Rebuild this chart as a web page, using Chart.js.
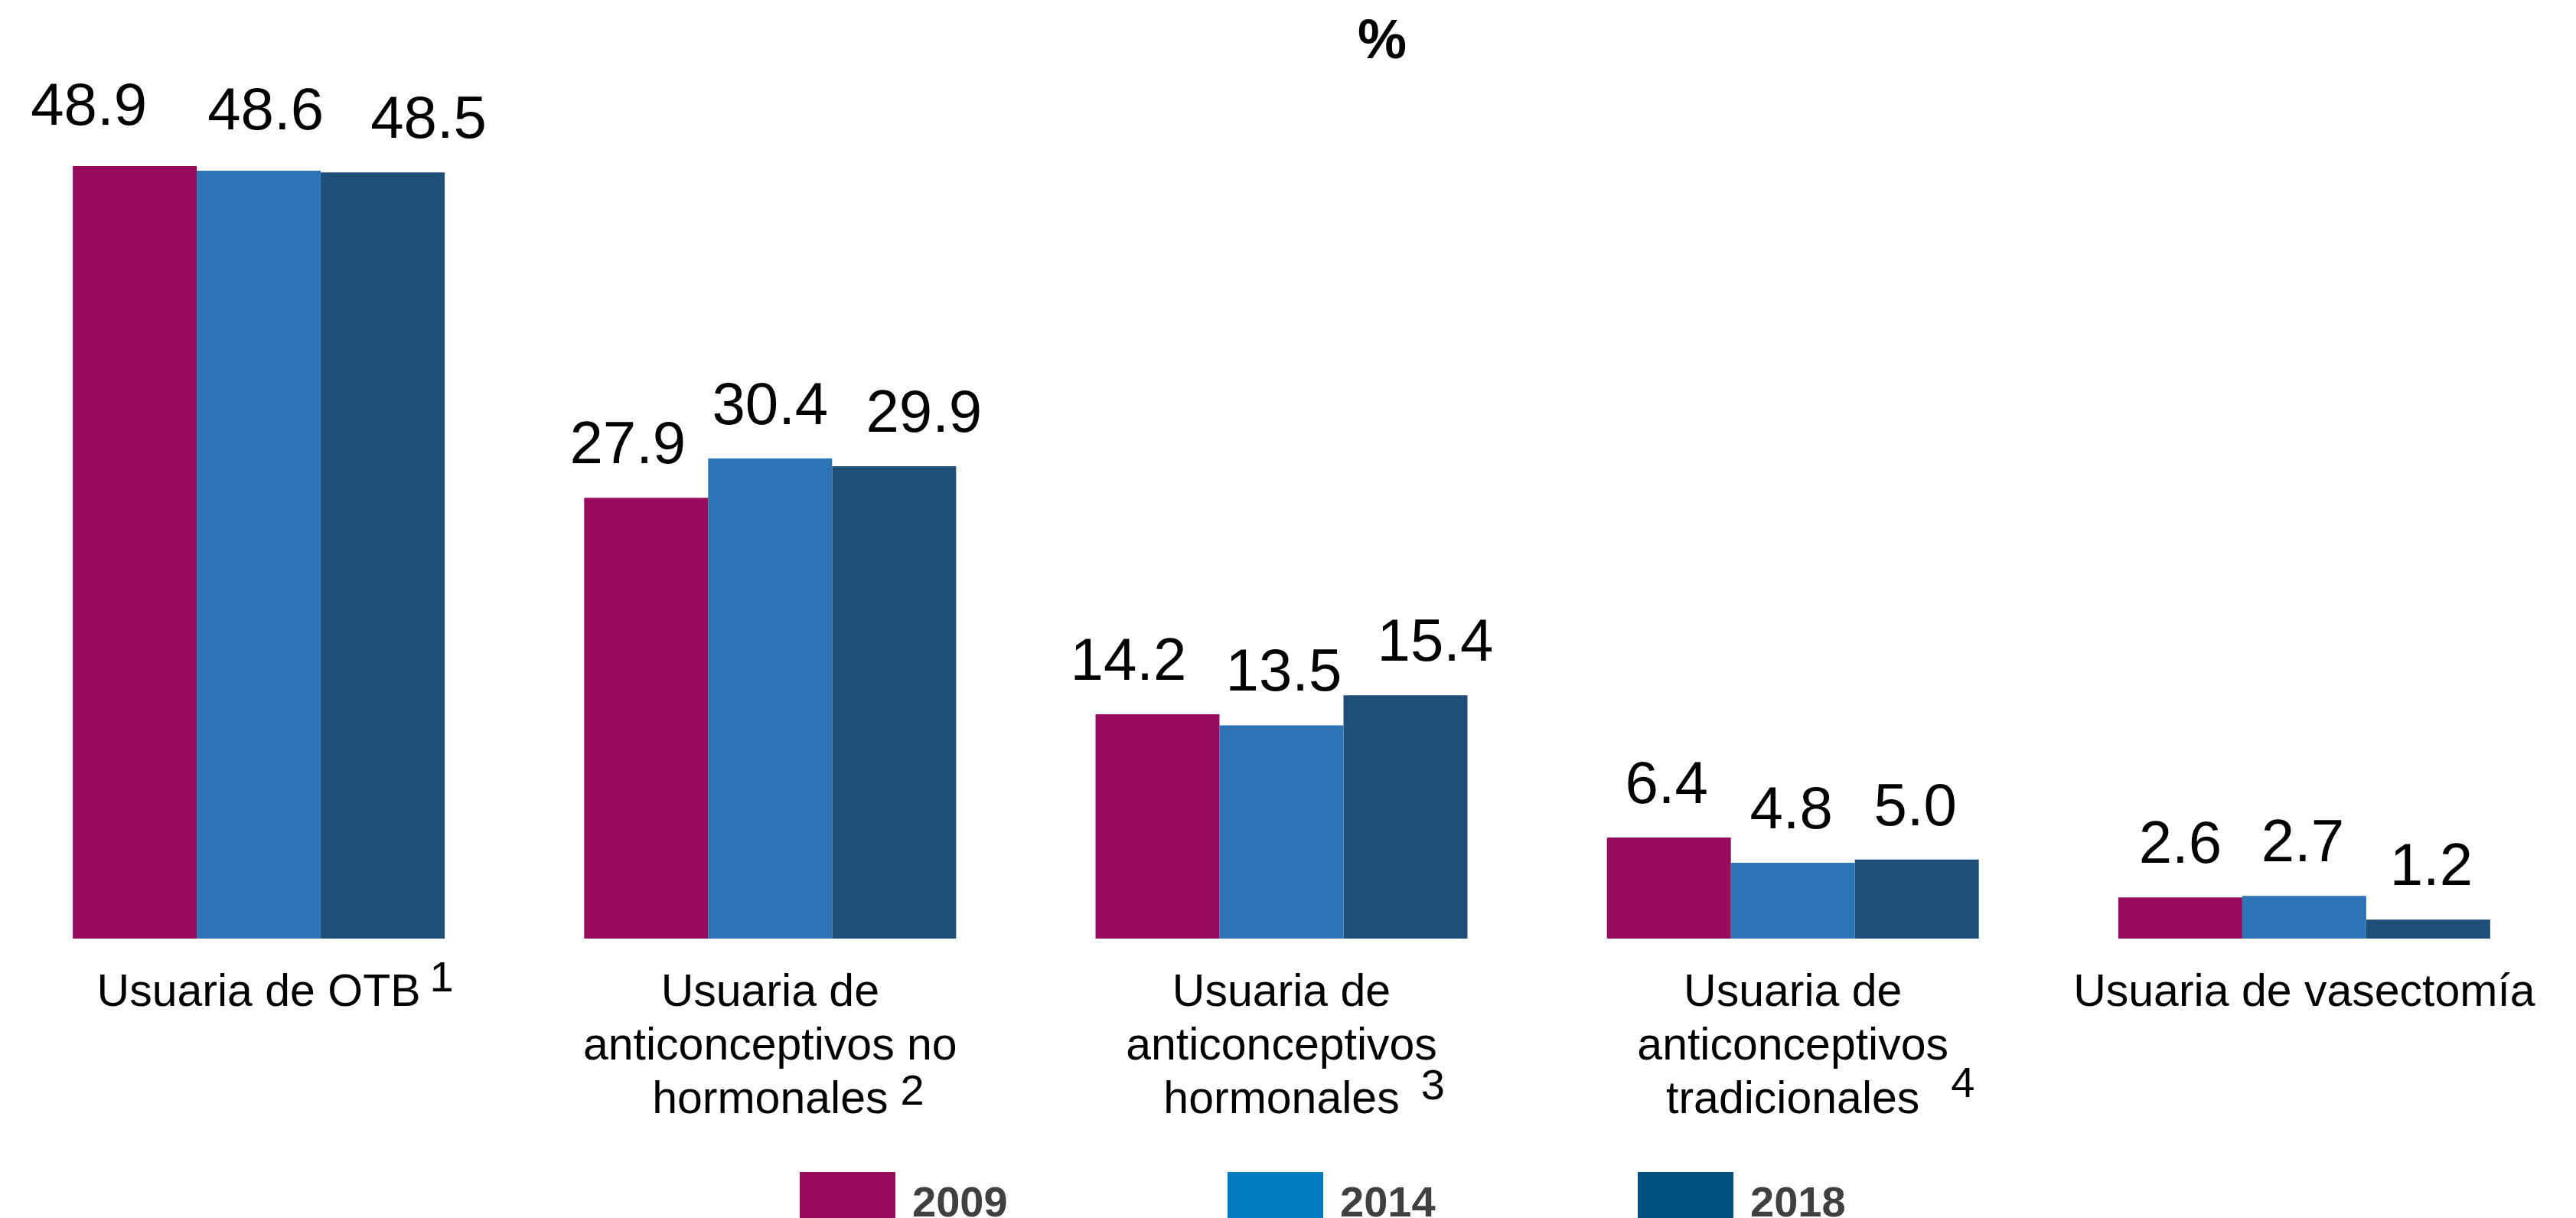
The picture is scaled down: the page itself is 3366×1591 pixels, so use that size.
<!DOCTYPE html>
<html>
<head>
<meta charset="utf-8">
<script src="https://cdn.jsdelivr.net/npm/chart.js@4.4.1/dist/chart.umd.min.js"></script>
<style>
  html, body { margin: 0; padding: 0; background: #ffffff; overflow: hidden; }
  #wrap { position: relative; width: 3366px; height: 1591px; }
</style>
</head>
<body>
<div id="wrap"><canvas id="c" width="3366" height="1591"></canvas></div>
<script>
// ---- data ----
const categories = [
  ["Usuaria de OTB"],
  ["Usuaria de", "anticonceptivos no", "hormonales"],
  ["Usuaria de", "anticonceptivos", "hormonales"],
  ["Usuaria de", "anticonceptivos", "tradicionales"],
  ["Usuaria de vasectom\u00EDa"]
];
const footnoteMarks = ["1", "2", "3", "4", ""];
const seriesNames = ["2009", "2014", "2018"];
const values2009 = [48.9, 27.9, 14.2, 6.4, 2.6];
const values2014 = [48.6, 30.4, 13.5, 4.8, 2.7];
const values2018 = [48.5, 29.9, 15.4, 5.0, 1.2];
const titleText = "%";

// ---- styles ----
const barColors = ["#970A5E", "#2E74B5", "#1F4E79"];
const legendColors = ["#980A5E", "#007AC0", "#005182"];
// small label nudges (px) per series per category, [dx, dy]
const labelNudge = [
  [[-60, -9], [-24, 0], [-38, 0], [-3, 0], [0, 0]],
  [[9, -9], [0, 0], [3, 0], [-2, 0], [-2, 0]],
  [[60, 0], [39, 0], [39, 0], [-2, 0], [4, 0]]
];
// footnote mark placement: gap after text, rise above baseline
const markGap = [12, 16, 28, 41, 0];
const markRise = [23, 15, 22, 25, 0];

const FONT = '"Liberation Sans", Arial, Helvetica, sans-serif';

const labelPlugin = {
  id: 'valueLabels',
  afterDatasetsDraw(chart) {
    const ctx = chart.ctx;
    ctx.save();
    ctx.font = '78px ' + FONT;
    ctx.fillStyle = '#000000';
    ctx.textAlign = 'center';
    ctx.textBaseline = 'alphabetic';
    chart.data.datasets.forEach((ds, di) => {
      const meta = chart.getDatasetMeta(di);
      meta.data.forEach((bar, i) => {
        const n = labelNudge[di][i];
        ctx.fillText(ds.data[i].toFixed(1), bar.x + n[0], bar.y - 45 + n[1]);
      });
    });
    ctx.restore();
  },
  afterDraw(chart) {
    const ctx = chart.ctx;
    ctx.save();
    // footnote marks next to category labels
    const xs = chart.scales.x;
    ctx.fillStyle = '#000000';
    ctx.textBaseline = 'alphabetic';
    categories.forEach((lines, i) => {
      if (!footnoteMarks[i]) return;
      ctx.font = '59px ' + FONT;
      const last = lines[lines.length - 1];
      const w = ctx.measureText(last).width;
      const x = xs.getPixelForTick(i) + w / 2 + markGap[i];
      const y = chart.chartArea.bottom + 92 + 70 * (lines.length - 1) - markRise[i];
      ctx.font = '56px ' + FONT;
      ctx.textAlign = 'left';
      ctx.fillText(footnoteMarks[i], x, y);
    });
    // title
    ctx.font = 'bold 72px ' + FONT;
    ctx.textAlign = 'center';
    ctx.fillText(titleText, 1806, 76);
    // legend
    const boxX = [1045, 1604, 2140];
    ctx.font = 'bold 56px ' + FONT;
    ctx.textAlign = 'left';
    seriesNames.forEach((name, i) => {
      ctx.fillStyle = legendColors[i];
      ctx.fillRect(boxX[i], 1531, 125, 70);
      ctx.fillStyle = '#404040';
      ctx.fillText(name, boxX[i] + 147, 1589);
    });
    ctx.restore();
  }
};

const seriesValues = [values2009, values2014, values2018];

new Chart(document.getElementById('c'), {
  type: 'bar',
  data: {
    labels: categories,
    datasets: seriesNames.map((name, i) => ({
      label: name,
      data: seriesValues[i],
      backgroundColor: barColors[i],
      borderWidth: 0,
      categoryPercentage: 0.7273,
      barPercentage: 1.0
    }))
  },
  options: {
    responsive: false,
    devicePixelRatio: 1,
    animation: false,
    layout: { padding: { left: 4, right: 21, top: 91, bottom: 0 } },
    plugins: {
      legend: { display: false },
      title: { display: false },
      tooltip: { enabled: false }
    },
    scales: {
      x: {
        grid: { display: false, drawTicks: false },
        border: { display: false },
        ticks: {
          color: '#000000',
          font: { family: FONT, size: 59, lineHeight: 70 / 59 },
          padding: 37,
          maxRotation: 0,
          autoSkip: false
        },
        afterFit(scale) { scale.height = 365; }
      },
      y: {
        display: false,
        min: 0,
        max: 55
      }
    }
  },
  plugins: [labelPlugin]
});
</script>
</body>
</html>
